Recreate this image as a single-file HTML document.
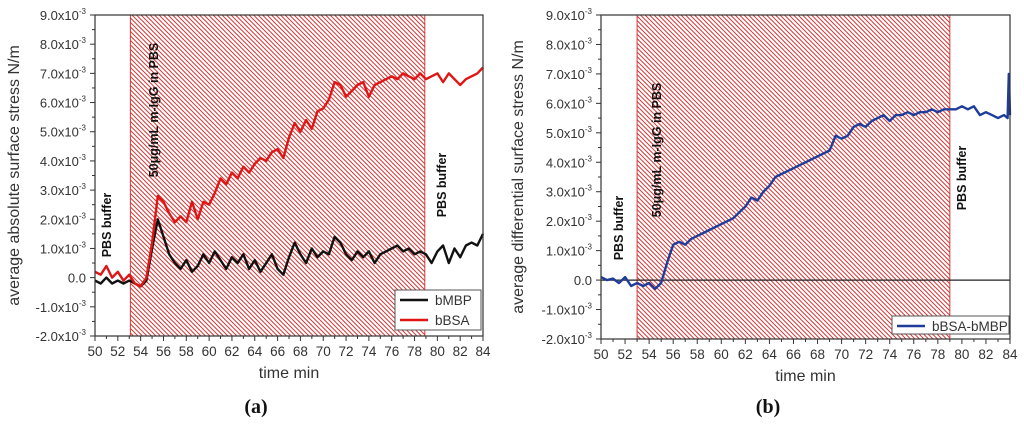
<!DOCTYPE html>
<html><head><meta charset="utf-8"><style>
html,body{margin:0;padding:0;background:#fff;}
svg{display:block;font-family:"Liberation Sans",sans-serif;}
</style></head><body>
<svg id="fig" width="1024" height="425" viewBox="0 0 1024 425">
<defs>
<pattern id="hatch" patternUnits="userSpaceOnUse" width="4.5" height="4.5">
<path d="M0,0 L4.5,4.5 M-1,3.5 L1,5.5 M3.5,-1 L5.5,1" stroke="#d43a3a" stroke-width="1"/>
</pattern>
</defs>
</svg>
<script>
const times=[50,50.5,51,51.5,52,52.5,53,53.5,54,54.5,55,55.5,56,56.5,57,57.5,58,58.5,59,59.5,60,60.5,61,61.5,62,62.5,63,63.5,64,64.5,65,65.5,66,66.5,67,67.5,68,68.5,69,69.5,70,70.5,71,71.5,72,72.5,73,73.5,74,74.5,75,75.5,76,76.5,77,77.5,78,78.5,79,79.5,80,80.5,81,81.5,82,82.5,83,83.5,84];
const bBSA=[0.2,0.1,0.4,0.0,0.2,-0.1,0.1,-0.2,-0.3,0.0,1.2,2.8,2.6,2.2,1.9,2.1,1.9,2.6,2.0,2.6,2.5,2.9,3.4,3.2,3.6,3.4,3.8,3.6,3.9,4.1,4.0,4.3,4.4,4.1,4.8,5.3,5.0,5.4,5.1,5.7,5.8,6.1,6.7,6.6,6.2,6.4,6.6,6.7,6.2,6.6,6.7,6.8,6.9,6.8,7.0,6.9,6.8,7.0,6.8,6.9,7.0,6.7,7.0,6.8,6.6,6.8,6.9,7.0,7.2];
const bMBP=[-0.1,-0.2,0.0,-0.2,-0.1,-0.2,-0.1,-0.2,-0.3,-0.1,1.0,2.0,1.4,0.8,0.5,0.3,0.6,0.2,0.4,0.8,0.5,0.9,0.6,0.3,0.7,0.5,0.8,0.3,0.6,0.2,0.5,0.8,0.3,0.1,0.7,1.2,0.8,0.5,1.0,0.7,0.9,0.8,1.4,1.2,0.8,0.6,0.9,0.7,0.9,0.5,0.8,0.9,1.0,1.1,0.9,1.0,0.8,0.9,0.8,0.5,0.9,1.1,0.5,1.0,0.7,1.1,1.2,1.1,1.5];
const diffTimes=[50,50.5,51,51.5,52,52.5,53,53.5,54,54.5,55,55.5,56,56.5,57,57.5,58,58.5,59,59.5,60,60.5,61,61.5,62,62.5,63,63.5,64,64.5,65,65.5,66,66.5,67,67.5,68,68.5,69,69.5,70,70.5,71,71.5,72,72.5,73,73.5,74,74.5,75,75.5,76,76.5,77,77.5,78,78.5,79,79.5,80,80.5,81,81.5,82,82.5,83,83.5,83.8,83.9,84];
const diffBSAMBP=[0.1,0.0,0.05,-0.1,0.1,-0.2,-0.1,-0.2,-0.1,-0.3,-0.1,0.6,1.2,1.3,1.2,1.4,1.5,1.6,1.7,1.8,1.9,2.0,2.1,2.3,2.5,2.8,2.7,3.0,3.2,3.5,3.6,3.7,3.8,3.9,4.0,4.1,4.2,4.3,4.4,4.9,4.8,4.9,5.2,5.3,5.2,5.4,5.5,5.6,5.4,5.6,5.6,5.7,5.6,5.7,5.7,5.8,5.7,5.8,5.8,5.8,5.9,5.8,5.9,5.6,5.7,5.6,5.5,5.6,5.5,7.0,5.6];
const xTicks=[50,52,54,56,58,60,62,64,66,68,70,72,74,76,78,80,82,84];
const yTicks=[9,8,7,6,5,4,3,2,1,0,-1,-2];
const yTickLabels=["9.0x10","8.0x10","7.0x10","6.0x10","5.0x10","4.0x10","3.0x10","2.0x10","1.0x10","0.0","-1.0x10","-2.0x10"];

const NS="http://www.w3.org/2000/svg";
const svg=document.getElementById('fig');
function mk(tag,attrs,parent){const e=document.createElementNS(NS,tag);for(const k in attrs)e.setAttribute(k,attrs[k]);(parent||svg).appendChild(e);return e;}

function chart(o){
  const g=mk('g',{});
  
  
  const X=v=>o.x0+(v-50)/(84-50)*(o.x1-o.x0);
  const Y=v=>o.y0+(9-v)/11*(o.y1-o.y0);
  const h=mk('rect',{x:X(o.h0),y:o.y0,width:X(o.h1)-X(o.h0),height:o.y1-o.y0,fill:'url(#hatch)',stroke:'#d43a3a','stroke-width':1},g);
  
  
  if(o.zero){const z=mk('line',{x1:o.x0,x2:o.x1,y1:Y(0),y2:Y(0),stroke:'#222','stroke-width':1.2},g);
    
    }
  o.series.forEach(s=>{
    let d='';s.ys.forEach((v,i)=>{d+=(i?'L':'M')+X(s.xs[i]).toFixed(1)+','+Y(v).toFixed(1);});
    const p=mk('path',{d:d,fill:'none',stroke:s.color,'stroke-width':2.4,'stroke-linejoin':'round'},g);
    
    
  });
  const f=mk('rect',{x:o.x0,y:o.y0,width:o.x1-o.x0,height:o.y1-o.y0,fill:'none',stroke:'#333','stroke-width':1.2},g);
  
  
  for(let t=50;t<=84;t++){mk('line',{x1:X(t),x2:X(t),y1:o.y1,y2:o.y1+(t%2?3:5),stroke:'#333'},g);}
  xTicks.forEach(t=>{const tx=mk('text',{x:X(t),y:o.y1+20,'text-anchor':'middle','font-size':13.5,fill:'#333'},g);tx.textContent=t;
    
    });
  for(let v=-2;v<=9;v+=0.5){mk('line',{x1:o.x0,x2:o.x0-(v%1?3:5),y1:Y(v),y2:Y(v),stroke:'#333'},g);}
  yTicks.forEach((v,i)=>{const tx=mk('text',{x:o.x0-9,y:Y(v)+5,'text-anchor':'end','font-size':13,fill:'#333'},g);
    tx.textContent=yTickLabels[i];
    if(v!==0){const s=mk('tspan',{'font-size':8,dy:-6},tx);s.textContent='-3';}
    
    });
  const xt=mk('text',{x:(o.x0+o.x1)/2,y:o.y1+42,'text-anchor':'middle','font-size':16,fill:'#333'},g);xt.textContent='time min';
  
  
  const yt=mk('text',{x:0,y:0,'text-anchor':'middle','font-size':16,fill:'#333',transform:`translate(${o.ytx},${(o.y0+o.y1)/2}) rotate(-90)`},g);yt.textContent=o.ytitle;
  
  
  o.notes.forEach(n=>{const t=mk('text',{x:0,y:0,'text-anchor':'middle','font-size':12.5,'font-weight':'bold',fill:'#111',transform:`translate(${n[1]},${n[2]}) rotate(-90)`},g);t.textContent=n[0];
    
    });
  const L=o.legend;
  const lg=mk('g',{},g);
  
  
  mk('rect',{x:L.x,y:L.y,width:L.w,height:L.h,fill:'#fff',stroke:'#555'},lg);
  o.series.forEach((s,i)=>{const yy=L.y+10+i*20;
    mk('line',{x1:L.x+5,x2:L.x+33,y1:yy,y2:yy,stroke:s.color,'stroke-width':2.4},lg);
    const t=mk('text',{x:L.x+40,y:yy+5,'font-size':13.5,fill:'#333'},lg);t.textContent=s.label;
    
    });
  const c=mk('text',{x:o.cap[1],y:413,'text-anchor':'middle','font-size':20,'font-weight':'bold','font-family':'Liberation Serif, serif',fill:'#111'},g);
  c.innerHTML='(<tspan>'+o.cap[0]+'</tspan>)';
  
  
}
chart({name:'chart-a',x0:95,x1:483,y0:15,y1:336,h0:53.1,h1:78.9,zero:false,ytx:19,
  ytitle:'average absolute surface stress N/m',
  series:[{id:'bmbp',label:'bMBP',color:'#111',xs:times,ys:bMBP},{id:'bbsa',label:'bBSA',color:'#e01515',xs:times,ys:bBSA}],
  notes:[['PBS buffer',111,225],['50\u03bcg/mL m-IgG in PBS',158,110],['PBS buffer',446,185]],
  legend:{x:395,y:290,w:86,h:40},cap:['a',256]});
chart({name:'chart-b',x0:601,x1:1010,y0:15,y1:339,h0:53,h1:79,zero:true,ytx:523,
  ytitle:'average differential surface stress N/m',
  series:[{id:'diff',label:'bBSA-bMBP',color:'#1e3d9a',xs:diffTimes,ys:diffBSAMBP}],
  notes:[['PBS buffer',623,228],['50\u03bcg/mL m-IgG in PBS',661,150],['PBS buffer',966,178]],
  legend:{x:892,y:316,w:117,h:18},cap:['b',768]});
</script>
</body></html>
